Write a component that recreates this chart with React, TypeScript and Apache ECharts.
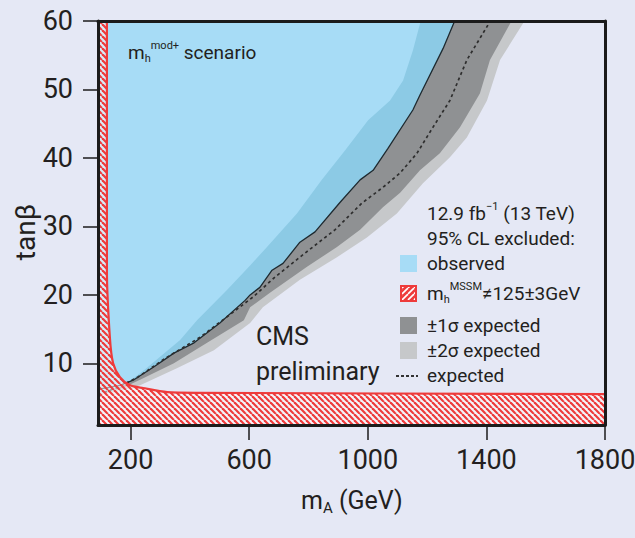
import React, { useEffect, useRef } from "react";
import * as echarts from "echarts";

const FONT = "Roboto, 'Liberation Sans', sans-serif";
const TEXT = "#231f20";
const BG = "#e5e8f5";

const xTicks = [200, 600, 1000, 1400, 1800];
const yTicks = [10, 20, 30, 40, 50, 60];

// ±2σ expected, upper (high-mA) edge
const band2Up: [number, number][] = [
  [90, 5.6], [147, 5.8], [232, 6.8], [356, 9.3], [481, 11.9], [603, 15.9], [646, 18.2],
  [771, 22.2], [896, 25.5], [997, 28.4], [1098, 31.9], [1186, 36.3], [1277, 40.1],
  [1334, 43.0], [1402, 48.4], [1446, 54.3], [1530, 60.1],
];
// ±1σ expected, upper edge
const band1Up: [number, number][] = [
  [90, 5.6], [124, 5.8], [178, 6.5], [232, 7.6], [346, 10.0], [458, 13.0], [582, 16.3],
  [603, 18.2], [670, 20.3], [795, 24.1], [896, 27.0], [974, 29.5], [1051, 32.8],
  [1109, 34.9], [1176, 38.2], [1243, 40.7], [1311, 44.5], [1378, 49.4], [1412, 54.3],
  [1486, 60.1],
];
// ±2σ expected, lower edge (inside the observed region)
const band2Low: [number, number][] = [
  [90, 5.5], [130, 5.8], [178, 6.8], [245, 9.0], [367, 13.4], [424, 16.3], [525, 20.7],
  [603, 24.3], [660, 27.0], [761, 31.9], [845, 36.8], [923, 41.1], [1001, 45.5],
  [1075, 48.4], [1119, 51.3], [1152, 55.7], [1179, 60.1],
];
// observed exclusion boundary
const observed: [number, number][] = [
  [90, 6.2], [164, 6.8], [211, 7.6], [279, 9.5], [346, 11.5], [414, 13.0], [501, 15.9],
  [586, 19.2], [603, 20.0], [636, 21.1], [677, 23.6], [714, 24.6], [771, 27.7],
  [822, 29.2], [906, 33.5], [974, 36.8], [1018, 38.2], [1068, 41.4], [1152, 47.0],
  [1176, 49.2], [1254, 56.0], [1294, 60.1],
];
// median expected
const expected: [number, number][] = [
  [95, 5.2], [114, 5.8], [157, 6.5], [225, 8.0], [319, 10.8], [434, 13.8], [613, 19.7],
  [687, 22.6], [788, 26.1], [889, 29.5], [980, 33.4], [1051, 35.7], [1109, 37.8],
  [1166, 40.7], [1220, 44.5], [1277, 48.4], [1334, 54.3], [1405, 59.4], [1412, 60.0],
];
// m_h^MSSM != 125±3 GeV region boundary
const hatchFill: [number, number][] = [
  [90, 60], [120, 60], [120, 23.6], [130, 13.8], [141, 10.0], [164, 8.0], [198, 6.8],
  [242, 6.4], [323, 5.8], [434, 5.7], [1800, 5.5],
];
const hatchEdge: [number, number][] = hatchFill.slice(1);

const C_LIGHTBLUE = "#a7dcf6";
const C_MIDBLUE = "#8ccae5";
const C_DARKGRAY = "#8f9193";
const C_LIGHTGRAY = "#c6c8ca";
const C_RED = "#ee3b3b";

function makeHatch(bg: string, stripe: string, dir: 1 | -1, w: number) {
  const c = document.createElement("canvas");
  c.width = 6;
  c.height = 6;
  const ctx = c.getContext("2d")!;
  ctx.fillStyle = bg;
  ctx.fillRect(0, 0, 6, 6);
  ctx.strokeStyle = stripe;
  ctx.lineWidth = w;
  for (const o of [-6, 0, 6]) {
    ctx.beginPath();
    if (dir === 1) {
      ctx.moveTo(o, 0);
      ctx.lineTo(o + 6, 6);
    } else {
      ctx.moveTo(o, 6);
      ctx.lineTo(o + 6, 0);
    }
    ctx.stroke();
  }
  return c;
}

export default function App() {
  const ref = useRef<HTMLDivElement>(null);
  useEffect(() => {
    const chart = echarts.init(ref.current!, null, { renderer: "svg" });
    const hatch = makeHatch("rgba(255,255,255,0.55)", C_RED, 1, 2.2);
    const iconHatch = makeHatch(C_RED, "#ffffff", -1, 1.6);

    const area = (name: string, data: [number, number][], color: any, origin: any, z: number) => ({
      name,
      type: "line",
      data,
      symbol: "none",
      silent: true,
      z,
      lineStyle: { width: 0 },
      areaStyle: { color, opacity: 1, origin },
    });

    const xAxisBase = { type: "value", min: 90, max: 1800, z: 10, splitLine: { show: false } };
    const yAxisBase = { type: "value", min: 1, max: 60, z: 10, splitLine: { show: false } };
    const axisLine = { show: true, onZero: false, lineStyle: { color: "#1b1b1b", width: 3 } };

    const legendTxt = (text: string, y: number, extra: any = {}) => ({
      type: "text",
      x: 427,
      y,
      z: 100,
      style: {
        text,
        fontFamily: FONT,
        fontSize: 19,
        fill: TEXT,
        align: "left",
        verticalAlign: "middle",
        ...extra,
      },
    });

    chart.setOption({
      animation: false,
      backgroundColor: BG,
      grid: {
        left: 98,
        right: 30,
        top: 21,
        bottom: 113,
        show: false,
        containLabel: false,
        outerBoundsMode: "none",
      },
      xAxis: [
        {
          ...xAxisBase,
          position: "bottom",
          axisLine,
          axisTick: { show: true, length: 15, customValues: xTicks, lineStyle: { color: "#1b1b1b", width: 1.5 } },
          axisLabel: {
            customValues: xTicks,
            fontSize: 27,
            fontFamily: FONT,
            color: TEXT,
            margin: 21,
            formatter: (v: number) => String(v),
          },
        },
        { ...xAxisBase, position: "top", axisLine, axisTick: { show: false }, axisLabel: { show: false } },
      ],
      yAxis: [
        {
          ...yAxisBase,
          position: "left",
          axisLine,
          axisTick: { show: true, length: 15, customValues: yTicks, lineStyle: { color: "#1b1b1b", width: 1.5 } },
          axisLabel: {
            customValues: yTicks,
            fontSize: 27,
            fontFamily: FONT,
            color: TEXT,
            margin: 25,
            formatter: (v: number) => String(v),
          },
        },
        { ...yAxisBase, position: "right", axisLine, axisTick: { show: false }, axisLabel: { show: false } },
      ],
      series: [
        area("±2σ expected", band2Up, C_LIGHTGRAY, "end", 2),
        area("±1σ expected", band1Up, C_DARKGRAY, "end", 3),
        area("observed band", observed, C_MIDBLUE, "end", 4),
        area("observed", band2Low, C_LIGHTBLUE, "end", 5),
        {
          name: "observed line",
          type: "line",
          data: observed,
          symbol: "none",
          silent: true,
          z: 6,
          lineStyle: { color: "#1e2a30", width: 1.3 },
        },
        {
          name: "expected",
          type: "line",
          data: expected,
          symbol: "none",
          silent: true,
          z: 7,
          lineStyle: { color: "#2e2e2e", width: 1.7, type: [3, 3] },
        },
        { ...area("mh hatch", hatchFill, { image: hatch, repeat: "repeat" }, "start", 8), smooth: 0.25 },
        {
          name: "mh edge",
          type: "line",
          data: hatchEdge,
          symbol: "none",
          silent: true,
          smooth: 0.25,
          z: 9,
          lineStyle: { color: C_RED, width: 2.2 },
        },
      ],
      graphic: [
        {
          type: "text",
          x: 25,
          y: 232,
          rotation: Math.PI / 2,
          z: 100,
          style: { text: "tanβ", fontFamily: FONT, fontSize: 28, fill: TEXT, align: "center", verticalAlign: "middle" },
        },
        {
          type: "text",
          x: 301,
          y: 500,
          z: 100,
          style: {
            text: "{m|m}{s|A}{m| (GeV)}",
            fontFamily: FONT,
            fill: TEXT,
            align: "left",
            verticalAlign: "middle",
            rich: {
              m: { fontSize: 25, fontFamily: FONT, fill: TEXT, lineHeight: 30 },
              s: { fontSize: 15, fontFamily: FONT, fill: TEXT, lineHeight: 4, verticalAlign: "bottom" },
            },
          },
        },
        {
          type: "text",
          x: 128,
          y: 52,
          z: 100,
          style: {
            text: "{m|m}{b|h}{p|mod+}{t| scenario}",
            fontFamily: FONT,
            fill: TEXT,
            align: "left",
            verticalAlign: "middle",
            rich: {
              m: { fontSize: 19, fontFamily: FONT, fill: TEXT, lineHeight: 24 },
              b: { fontSize: 11, fontFamily: FONT, fill: TEXT, lineHeight: 4, verticalAlign: "bottom" },
              p: { fontSize: 11, fontFamily: FONT, fill: TEXT, lineHeight: 8, verticalAlign: "top" },
              t: { fontSize: 19, fontFamily: FONT, fill: TEXT, lineHeight: 24 },
            },
          },
        },
        {
          type: "text",
          x: 256,
          y: 354,
          z: 100,
          style: {
            text: "CMS\npreliminary",
            fontFamily: FONT,
            fontSize: 25,
            lineHeight: 35,
            fill: TEXT,
            align: "left",
            verticalAlign: "middle",
          },
        },
        legendTxt("{t|12.9 fb}{p|−1}{t| (13 TeV)}", 213, {
          rich: {
            t: { fontSize: 19, fontFamily: FONT, fill: TEXT, lineHeight: 24 },
            p: { fontSize: 11, fontFamily: FONT, fill: TEXT, lineHeight: 9, verticalAlign: "top" },
          },
        }),
        legendTxt("95% CL excluded:", 238),
        legendTxt("observed", 263),
        legendTxt("{m|m}{b|h}{p|MSSM}{t|≠125±3GeV}", 293, {
          rich: {
            m: { fontSize: 19, fontFamily: FONT, fill: TEXT, lineHeight: 24 },
            b: { fontSize: 11, fontFamily: FONT, fill: TEXT, lineHeight: 4, verticalAlign: "bottom" },
            p: { fontSize: 11, fontFamily: FONT, fill: TEXT, lineHeight: 8, verticalAlign: "top" },
            t: { fontSize: 19, fontFamily: FONT, fill: TEXT, lineHeight: 24 },
          },
        }),
        legendTxt("±1σ expected", 325),
        legendTxt("±2σ expected", 350),
        legendTxt("expected", 375),
        { type: "rect", z: 100, shape: { x: 400, y: 255, width: 17, height: 17 }, style: { fill: C_LIGHTBLUE } },
        {
          type: "rect",
          z: 100,
          shape: { x: 401, y: 286, width: 15, height: 15 },
          style: { fill: { image: iconHatch, repeat: "repeat" }, stroke: C_RED, lineWidth: 2 },
        },
        { type: "rect", z: 100, shape: { x: 400, y: 317, width: 17, height: 17 }, style: { fill: C_DARKGRAY } },
        { type: "rect", z: 100, shape: { x: 400, y: 342, width: 17, height: 17 }, style: { fill: C_LIGHTGRAY } },
        {
          type: "line",
          z: 100,
          shape: { x1: 396, y1: 376, x2: 418, y2: 376 },
          style: { stroke: "#333333", lineWidth: 2, lineDash: [3, 2] },
        },
      ],
    });
    return () => chart.dispose();
  }, []);
  return <div ref={ref} style={{ position: "fixed", left: 0, top: 0, width: 635, height: 538 }} />;
}
